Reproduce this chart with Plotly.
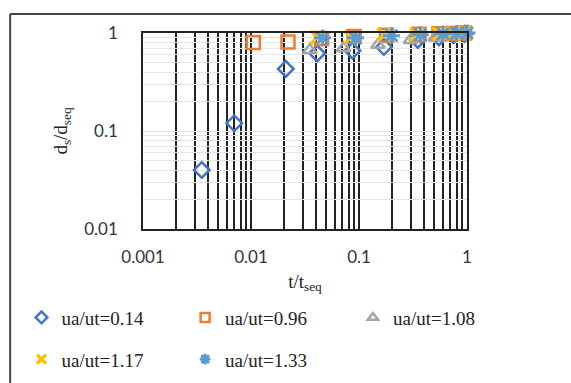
import plotly.graph_objects as go

# Data (log-log)
names = ["ua/ut=0.14", "ua/ut=0.96", "ua/ut=1.08", "ua/ut=1.17", "ua/ut=1.33"]

x_014 = [0.0035, 0.007, 0.021, 0.041, 0.087, 0.17, 0.35, 0.55, 0.75, 0.95]
y_014 = [0.04, 0.12, 0.43, 0.62, 0.66, 0.72, 0.85, 0.90, 0.95, 0.98]

x_096 = [0.0105, 0.022, 0.045, 0.09, 0.18, 0.36, 0.55, 0.75, 0.95]
y_096 = [0.80, 0.81, 0.88, 0.92, 0.95, 0.97, 0.98, 0.99, 1.0]

x_108 = [0.035, 0.072, 0.15, 0.30, 0.51, 0.70, 0.90]
y_108 = [0.67, 0.70, 0.76, 0.85, 0.90, 0.94, 0.97]

x_117 = [0.041, 0.084, 0.17, 0.34, 0.55, 0.75, 0.95]
y_117 = [0.90, 0.90, 0.96, 0.97, 0.98, 0.99, 1.0]

x_133 = [0.046, 0.093, 0.20, 0.37, 0.60, 0.80, 1.0]
y_133 = [0.89, 0.89, 0.94, 0.96, 0.98, 0.99, 1.0]

x_decades = [0.001, 0.01, 0.1, 1]
y_decades = [0.01, 0.1, 1]

xs = [x_014, x_096, x_108, x_117, x_133]
ys = [y_014, y_096, y_108, y_117, y_133]
symbols = ["diamond-open", "square-open", "triangle-up-open", "x-thin-open", "asterisk-open"]
colors = ["#4472C4", "#ED7D31", "#A5A5A5", "#FFC000", "#5B9BD5"]
sizes = [12, 13, 12, 13, 14]
line_widths = [2.5, 2.5, 2.5, 3.2, 2.8]
legend_ids = ["legend", "legend2", "legend3", "legend", "legend2"]


def log_grid(decades):
    vals, text = [], []
    for i, d in enumerate(decades):
        vals.append(d)
        text.append(f"{d:g}")
        if i < len(decades) - 1:
            for k in range(2, 10):
                vals.append(d * k)
                text.append("")
    return vals, text


xgrid_vals, xgrid_text = log_grid(x_decades)
ygrid_vals, ygrid_text = log_grid(y_decades)

fig = go.Figure()
for n, x, y, s, c, sz, lw in zip(names, xs, ys, symbols, colors, sizes, line_widths):
    fig.add_trace(go.Scatter(
        x=x, y=y, mode="markers", name=n, cliponaxis=False, showlegend=False,
        legendgroup=n,
        marker=dict(symbol=s, size=sz, color=c, line=dict(color=c, width=lw)),
    ))
# legend entries (smaller markers, like the reference legend)
for n, s, c, lg, lw in zip(names, symbols, colors, legend_ids, line_widths):
    fig.add_trace(go.Scatter(
        x=[None], y=[None], mode="markers", name=n, legend=lg, legendgroup=n,
        marker=dict(symbol=s, size=9, color=c, line=dict(color=c, width=lw)),
    ))

legend_common = dict(
    orientation="v", xanchor="left", yanchor="top", y=-0.355,
    font=dict(family="Liberation Serif", size=19, color="#222"),
    itemsizing="trace", tracegroupgap=14, bgcolor="rgba(0,0,0,0)",
)

fig.update_layout(
    width=571, height=383,
    margin=dict(l=143, r=104, t=33, b=154, autoexpand=False),
    paper_bgcolor="white", plot_bgcolor="white",
    showlegend=True,
    legend=dict(x=-0.375, **legend_common),
    legend2=dict(x=0.13, **legend_common),
    legend3=dict(x=0.648, **legend_common),
    xaxis=dict(
        type="log", range=[-3, 0],
        tickvals=xgrid_vals, ticktext=xgrid_text,
        showgrid=True, gridcolor="#222222", gridwidth=1.6,
        showline=True, linecolor="#222222", linewidth=1.6, mirror=True,
        ticks="", zeroline=False, ticklabelstandoff=12,
        tickfont=dict(family="Lato", size=17, color="#333"),
        title=dict(text="t/t<sub>seq</sub>", standoff=8,
                   font=dict(family="Liberation Serif", size=19, color="#222")),
    ),
    yaxis=dict(
        type="log", range=[-2, 0],
        tickvals=ygrid_vals, ticktext=ygrid_text,
        showgrid=True, gridcolor="#e6e6e6", gridwidth=1,
        showline=True, linecolor="#222222", linewidth=1.6, mirror=True,
        ticks="", zeroline=False, ticklabelstandoff=20,
        tickfont=dict(family="Lato", size=17, color="#333"),
        title=dict(text="d<sub>s</sub>/d<sub>seq</sub>", standoff=12,
                   font=dict(family="Liberation Serif", size=19, color="#222")),
    ),
)

# Outer chart frame (top and left edges visible in the reference)
fig.add_shape(type="line", xref="paper", yref="paper",
              x0=-0.41, x1=1.35, y0=1.097, y1=1.097,
              line=dict(color="#444", width=2))
fig.add_shape(type="line", xref="paper", yref="paper",
              x0=-0.41, x1=-0.41, y0=1.097, y1=-0.85,
              line=dict(color="#444", width=2))

fig.write_html("out.html", config={"displayModeBar": False},
               post_script="document.body.style.margin='0';")
